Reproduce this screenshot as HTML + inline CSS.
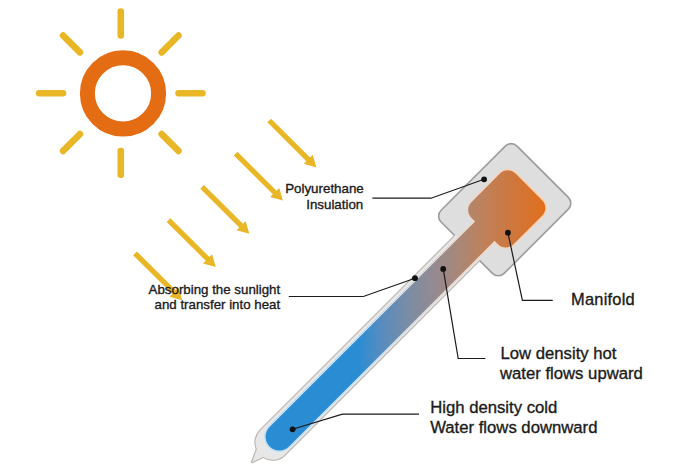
<!DOCTYPE html>
<html><head><meta charset="utf-8"><title>Evacuated tube collector</title>
<style>html,body{margin:0;padding:0;background:#fff;}svg{display:block;}</style>
</head><body>
<svg width="680" height="476" viewBox="0 0 680 476">
<rect width="680" height="476" fill="#FFFFFF"/>
<circle cx="123" cy="93.4" r="35.6" fill="none" stroke="#E46C12" stroke-width="15"/><line x1="178.60" y1="93.20" x2="202.40" y2="93.20" stroke="#E9B626" stroke-width="6.6" stroke-linecap="round"/><line x1="161.67" y1="134.07" x2="178.50" y2="150.90" stroke="#E9B626" stroke-width="6.6" stroke-linecap="round"/><line x1="120.80" y1="151.00" x2="120.80" y2="174.80" stroke="#E9B626" stroke-width="6.6" stroke-linecap="round"/><line x1="79.93" y1="134.07" x2="63.10" y2="150.90" stroke="#E9B626" stroke-width="6.6" stroke-linecap="round"/><line x1="63.00" y1="93.20" x2="39.20" y2="93.20" stroke="#E9B626" stroke-width="6.6" stroke-linecap="round"/><line x1="79.93" y1="52.33" x2="63.10" y2="35.50" stroke="#E9B626" stroke-width="6.6" stroke-linecap="round"/><line x1="120.80" y1="35.40" x2="120.80" y2="11.60" stroke="#E9B626" stroke-width="6.6" stroke-linecap="round"/><line x1="161.67" y1="52.33" x2="178.50" y2="35.50" stroke="#E9B626" stroke-width="6.6" stroke-linecap="round"/>

<defs>
<linearGradient id="gm" gradientUnits="userSpaceOnUse" x1="0.00" y1="0.00" x2="132.94" y2="132.94">
  <stop offset="0" stop-color="#2A8CD2"/>
  <stop offset="0.117" stop-color="#558CC0"/>
  <stop offset="0.266" stop-color="#7A8CA5"/>
  <stop offset="0.404" stop-color="#948A91"/>
  <stop offset="0.543" stop-color="#AA8776"/>
  <stop offset="0.681" stop-color="#C08058"/>
  <stop offset="0.84" stop-color="#D0763A"/>
  <stop offset="1" stop-color="#E26E1A"/>
</linearGradient>
<linearGradient id="gl" gradientUnits="userSpaceOnUse" x1="0.00" y1="0.00" x2="132.94" y2="132.94">
  <stop offset="0" stop-color="#BFE0F7"/>
  <stop offset="0.5" stop-color="#E6D8D0"/>
  <stop offset="1" stop-color="#FFD2AE"/>
</linearGradient>
</defs>
<g transform="translate(358.0 358.0) rotate(-45)">
  <rect x="155.7" y="-44.9" width="105.80" height="87.60" rx="7.5" ry="7.5" fill="none" stroke="#9C9C9C" stroke-width="3.2"/>
  <path d="M 200 -17.80 L -120.1 -17.80 A 17.2 17.2 0 0 0 -136.06 -7.00 C -140.06 -5.50 -144.30 -2.50 -149.3 -1.3 C -144.30 -0.50 -140.52 2.30 -137.02 2.50 A 17.2 17.2 0 0 0 -120.1 16.60 L 200 16.60 Z" fill="none" stroke="#BAB3AC" stroke-width="2.2"/>
  <path d="M 200 -17.80 L -120.1 -17.80 A 17.2 17.2 0 0 0 -136.06 -7.00 C -140.06 -5.50 -144.30 -2.50 -149.3 -1.3 C -144.30 -0.50 -140.52 2.30 -137.02 2.50 A 17.2 17.2 0 0 0 -120.1 16.60 L 200 16.60 Z" fill="#E7E7E8"/>
  <rect x="155.7" y="-44.9" width="105.80" height="87.60" rx="7.5" ry="7.5" fill="#DEDEDF"/>
  <path d="M -111.3 -13.7 L 179.4 -13.7 L 179.4 -19.0 A 11 11 0 0 1 190.4 -30.0 L 230.8 -30.0 A 11 11 0 0 1 241.8 -19.0 L 241.8 18.6 A 11 11 0 0 1 230.8 29.6 L 190.4 29.6 A 11 11 0 0 1 179.4 18.6 L 179.4 13.7 L -111.3 13.7 A 13.7 13.7 0 0 1 -111.3 -13.7 Z" fill="none" stroke="url(#gl)" stroke-width="3.0" stroke-linejoin="round"/>
  <path d="M -111.3 -13.7 L 179.4 -13.7 L 179.4 -19.0 A 11 11 0 0 1 190.4 -30.0 L 230.8 -30.0 A 11 11 0 0 1 241.8 -19.0 L 241.8 18.6 A 11 11 0 0 1 230.8 29.6 L 190.4 29.6 A 11 11 0 0 1 179.4 18.6 L 179.4 13.7 L -111.3 13.7 A 13.7 13.7 0 0 1 -111.3 -13.7 Z" fill="url(#gm)"/>
</g>

<polygon points="267.37,122.34 306.41,161.14 303.73,163.83 316.40,167.40 312.75,154.75 310.07,157.45 271.03,118.66" fill="#E9B626"/><polygon points="233.82,155.54 272.86,194.34 270.18,197.03 282.85,200.60 279.20,187.95 276.52,190.65 237.48,151.86" fill="#E9B626"/><polygon points="200.27,188.74 239.31,227.54 236.63,230.23 249.30,233.80 245.65,221.15 242.97,223.85 203.93,185.06" fill="#E9B626"/><polygon points="166.72,221.94 205.76,260.74 203.08,263.43 215.75,267.00 212.10,254.35 209.42,257.05 170.38,218.26" fill="#E9B626"/><polygon points="133.17,255.14 172.21,293.94 169.53,296.63 182.20,300.20 178.55,287.55 175.87,290.25 136.83,251.46" fill="#E9B626"/>
<g font-family='"Liberation Sans", sans-serif' fill="#1C1B1B" stroke="#1C1B1B" stroke-width="0.35">
<text x="363.8" y="193.0" font-size="13.35" text-anchor="end" letter-spacing="0">Polyurethane</text><text x="363.3" y="209.0" font-size="13.35" text-anchor="end" letter-spacing="0">Insulation</text><text x="280.2" y="293.6" font-size="13.3" text-anchor="end" letter-spacing="0">Absorbing the sunlight</text><text x="280.2" y="309.4" font-size="13.3" text-anchor="end" letter-spacing="0">and transfer into heat</text><text x="571.0" y="305.0" font-size="16.4" text-anchor="start" letter-spacing="0.25">Manifold</text><text x="500.5" y="358.7" font-size="16.7" text-anchor="start" letter-spacing="0">Low density hot</text><text x="500.0" y="378.7" font-size="16.7" text-anchor="start" letter-spacing="0">water flows upward</text><text x="430.2" y="412.8" font-size="16.7" text-anchor="start" letter-spacing="0">High density cold</text><text x="430.2" y="432.6" font-size="16.7" text-anchor="start" letter-spacing="0">Water flows downward</text>
</g>
<polyline points="372.40,198.20 431.00,198.20 484.10,179.30" fill="none" stroke="#1C1B1B" stroke-width="1.2"/><polyline points="288.80,296.50 363.40,296.50 415.00,278.20" fill="none" stroke="#1C1B1B" stroke-width="1.2"/><polyline points="507.90,232.70 522.40,300.40 552.70,300.40" fill="none" stroke="#1C1B1B" stroke-width="1.2"/><polyline points="443.20,268.90 458.20,358.50 485.40,358.50" fill="none" stroke="#1C1B1B" stroke-width="1.2"/><polyline points="292.60,429.30 342.40,414.10 419.00,414.10" fill="none" stroke="#1C1B1B" stroke-width="1.2"/><circle cx="484.1" cy="179.3" r="2.9" fill="#111"/><circle cx="415" cy="278.2" r="2.9" fill="#111"/><circle cx="507.9" cy="232.7" r="2.9" fill="#111"/><circle cx="443.2" cy="268.9" r="2.9" fill="#111"/><circle cx="292.6" cy="429.3" r="2.9" fill="#111"/>
</svg>
</body></html>
